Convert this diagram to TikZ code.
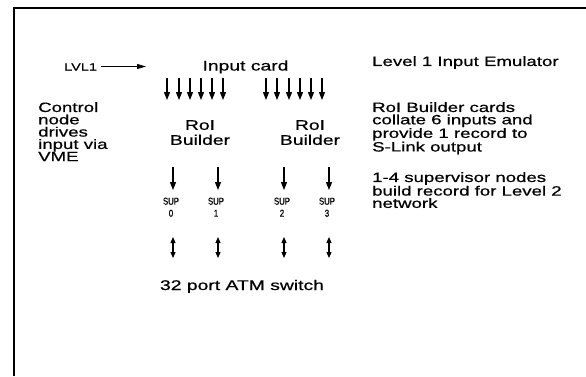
\documentclass[tikz,border=0pt]{standalone}
\usepackage{fontspec}
\setmainfont[FakeStretch=1.38,FakeBold=0.6]{Liberation Sans}
\newfontfamily\supfont[FakeStretch=0.78,FakeBold=0.8]{Liberation Sans}
\usetikzlibrary{arrows.meta}
\begin{document}
\begin{tikzpicture}[x=1pt,y=-1pt,
  txt/.style={font=\fontsize{13.5}{12.3}\selectfont, inner sep=0pt, align=left},
  big/.style={font=\fontsize{14}{15}\selectfont, inner sep=0pt, align=center},
  small/.style={font=\supfont\fontsize{10}{12}\selectfont, inner sep=0pt, align=center},
  frame/.style={line width=1.5pt},
  arr/.style={line width=1.1pt, -{Triangle[length=8pt,width=6pt]}},
  darr/.style={line width=1.1pt, {Triangle[length=6pt,width=5pt]}-{Triangle[length=6pt,width=5pt]}},
  larr/.style={line width=0.8pt, -{Triangle[length=9pt,width=5pt]}}
]
\useasboundingbox (0,0) rectangle (586,376);
% frame
\coordinate (fa) at (14,376);
\coordinate (fb) at (14,8);
\coordinate (fc) at (586,8);
\draw[frame] (fa) -- (fb) -- (fc);

% LVL1
\node[font=\fontsize{10.5}{12}\selectfont, inner sep=0pt, anchor=base west] (lvl1) at (64,70.5) {LVL1};
\coordinate (lvlstart) at (101,66.5);
\coordinate (lvlend) at (146,66.5);
\draw[larr] (lvlstart) -- (lvlend);

% Input card
\node[big, anchor=base] (inputcard) at (245.5,70.5) {Input card};
\foreach \x [count=\i] in {167,179,190,201,212,223,266,277,289,300,311,322} {
  \coordinate (ia\i) at (\x,78);
  \coordinate (ib\i) at (\x,100);
  \draw[arr] (ia\i) -- (ib\i);
}

% RoI Builders
\node[big, anchor=north] (rb1) at (200,120) {RoI\\Builder};
\node[big, anchor=north] (rb2) at (310,120) {RoI\\Builder};

% SUP nodes
\foreach \x/\n [count=\i] in {173/0,218/1,284/2,329/3} {
  \coordinate (sa\i) at (\x,167);
  \coordinate (sb\i) at (\x,190);
  \draw[arr] (sa\i) -- (sb\i);
  \node[small, anchor=north] (sup\i) at (\x-2,197.5) {SUP\\\n};
  \coordinate (da\i) at (\x,237);
  \coordinate (db\i) at (\x,258);
  \draw[darr] (da\i) -- (db\i);
}

% ATM switch
\node[big, anchor=base] (atm) at (242,290) {32 port ATM switch};

% left note
\node[txt, anchor=north west] (ctrl) at (38,102) {Control\\node\\drives\\input via\\VME};

% right notes
\node[txt, anchor=north west] (l1e) at (372,56) {Level 1 Input Emulator};
\node[txt, anchor=north west] (rbc) at (372,102) {RoI Builder cards\\collate 6 inputs and\\provide 1 record to\\S-Link output};
\node[txt, anchor=north west] (supn) at (372,172) {1-4 supervisor nodes\\build record for Level 2\\network};
\end{tikzpicture}
\end{document}
